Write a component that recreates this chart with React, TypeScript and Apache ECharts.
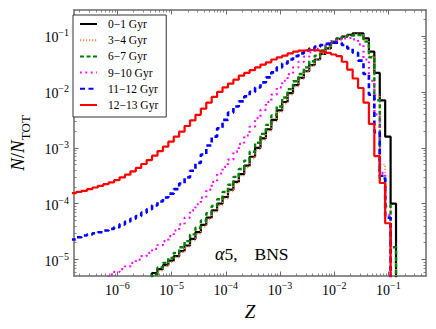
import React, { useEffect, useRef } from "react";
import * as echarts from "echarts";

// Histogram bins: 60 bins of 0.1 dex in log10(Z); left edges from -6.86 up to -0.96, last right edge -0.86
const binEdgesLogZ: number[] = Array.from({ length: 61 }, (_, i) => +(-6.86 + 0.1 * i).toFixed(2));

// log10(N/N_TOT) per bin (null = empty / below plot)
const logN_0_1Gyr: (number | null)[] = [
  null, null, null, null, null, null, null, null, null, null,
  null, null, null, null, null, -5.24, -5.17, -5.10, -5.02, -4.94,
  -4.85, -4.75, -4.63, -4.51, -4.38, -4.25, -4.12, -4.00, -3.88, -3.75,
  -3.61, -3.47, -3.32, -3.16, -3.00, -2.83, -2.67, -2.50, -2.33, -2.18,
  -2.02, -1.88, -1.75, -1.63, -1.52, -1.42, -1.32, -1.22, -1.12, -1.05,
  -1.01, -0.98, -0.95, -0.95, -1.04, -1.28, -1.66, -2.15, -2.80, -4.00,
];
const logN_3_4Gyr: (number | null)[] = [
  null, null, null, null, null, null, null, null, null, null,
  null, null, null, null, null, null, -5.20, -5.12, -5.05, -4.96,
  -4.87, -4.77, -4.66, -4.54, -4.41, -4.28, -4.15, -4.03, -3.91, -3.78,
  -3.64, -3.50, -3.35, -3.19, -3.03, -2.86, -2.70, -2.53, -2.36, -2.21,
  -2.05, -1.90, -1.77, -1.64, -1.53, -1.42, -1.32, -1.22, -1.13, -1.06,
  -1.02, -0.99, -0.97, -0.98, -1.08, -1.36, -2.05, -3.30, -4.05, -5.05,
];
const logN_6_7Gyr: (number | null)[] = [
  null, null, null, null, null, null, null, null, null, null,
  null, null, null, null, null, -5.27, -5.14, -5.06, -4.97, -4.88,
  -4.78, -4.67, -4.55, -4.43, -4.30, -4.17, -4.04, -3.92, -3.79, -3.66,
  -3.52, -3.38, -3.23, -3.07, -2.91, -2.75, -2.59, -2.42, -2.26, -2.10,
  -1.95, -1.81, -1.68, -1.56, -1.45, -1.35, -1.26, -1.17, -1.10, -1.04,
  -1.01, -0.99, -0.98, -0.99, -1.10, -1.38, -2.15, -3.55, -4.03, -4.78,
];
const logN_9_10Gyr: (number | null)[] = [
  null, null, null, null, null, null, null, -5.27, -5.22, -5.17,
  -5.12, -5.06, -5.00, -4.94, -4.88, -4.81, -4.74, -4.67, -4.58, -4.48,
  -4.37, -4.25, -4.12, -4.01, -3.89, -3.75, -3.61, -3.46, -3.34, -3.21,
  -3.07, -2.93, -2.78, -2.62, -2.47, -2.32, -2.18, -2.05, -1.92, -1.80,
  -1.68, -1.56, -1.46, -1.37, -1.29, -1.23, -1.17, -1.13, -1.09, -1.06,
  -1.04, -1.03, -1.06, -1.15, -1.42, -1.80, -2.40, -3.45, -4.20, null,
];
const logN_11_12Gyr: (number | null)[] = [
  -4.64, -4.60, -4.57, -4.55, -4.53, -4.51, -4.48, -4.45, -4.42, -4.37,
  -4.32, -4.27, -4.22, -4.16, -4.10, -4.03, -3.96, -3.89, -3.82, -3.74,
  -3.64, -3.53, -3.41, -3.27, -3.12, -2.96, -2.80, -2.65, -2.50, -2.37,
  -2.26, -2.17, -2.08, -2.00, -1.92, -1.83, -1.74, -1.65, -1.56, -1.49,
  -1.42, -1.36, -1.31, -1.26, -1.22, -1.19, -1.16, -1.14, -1.12, -1.12,
  -1.16, -1.22, -1.30, -1.44, -1.68, -2.05, -2.72, -3.50, -4.25, null,
];
const logN_12_13Gyr: (number | null)[] = [
  -3.81, -3.79, -3.77, -3.74, -3.71, -3.68, -3.65, -3.62, -3.58, -3.53,
  -3.48, -3.42, -3.36, -3.29, -3.22, -3.14, -3.06, -2.98, -2.89, -2.80,
  -2.71, -2.61, -2.51, -2.41, -2.30, -2.19, -2.09, -2.00, -1.92, -1.85,
  -1.78, -1.71, -1.66, -1.61, -1.56, -1.51, -1.47, -1.42, -1.38, -1.35,
  -1.31, -1.28, -1.26, -1.25, -1.25, -1.26, -1.28, -1.30, -1.33, -1.36,
  -1.46, -1.60, -1.76, -1.93, -2.19, -2.57, -3.15, -3.63, -4.35, null,
];

const seriesNames = ["0\u22121 Gyr", "3\u22124 Gyr", "6\u22127 Gyr", "9\u221210 Gyr", "11\u221212 Gyr", "12\u221213 Gyr"];
const seriesValues = [logN_0_1Gyr, logN_3_4Gyr, logN_6_7Gyr, logN_9_10Gyr, logN_11_12Gyr, logN_12_13Gyr];
const seriesColors = ["#000000", "#ff8a50", "#008000", "#ff00ff", "#0000ff", "#ff0000"];
const seriesWidths = [2.2, 1.6, 2.4, 2.2, 2.6, 2.2];
const seriesDash: (string | number[])[] = ["solid", [1.2, 1.8], [4, 2.5], [1.8, 3.6], [5, 3.5], "solid"];

// Axis ranges (log10 space) and tick decades
const xRange = [-6.8, -0.307];
const yRange = [-5.294, -0.534];
const xMajor = [-6, -5, -4, -3, -2, -1];
const yMajor = [-5, -4, -3, -2, -1];

const FLOOR = -9;
const FONT = "Liberation Serif";
const FRAME = "#6a6a6a";

function minorTicks(lo: number, hi: number): number[] {
  const out: number[] = [];
  for (let n = Math.floor(lo) - 1; n <= Math.ceil(hi); n++) {
    for (let k = 2; k <= 9; k++) {
      const v = n + Math.log10(k);
      if (v > lo && v < hi) out.push(v);
    }
  }
  return out;
}

function stepPoints(vals: (number | null)[]): number[][] {
  const pts: number[][] = [];
  for (let i = 0; i < vals.length; i++) {
    const v = vals[i];
    pts.push([binEdgesLogZ[i], v == null ? FLOOR : v]);
  }
  pts.push([binEdgesLogZ[vals.length], FLOOR]);
  return pts;
}

const labelRich = {
  b: { fontFamily: FONT, fontSize: 14, color: "#000", lineHeight: 17, verticalAlign: "bottom" },
  s: { fontFamily: FONT, fontSize: 10, color: "#000", verticalAlign: "top" },
};
const fmt = (v: number) => `{b|10}{s|\u2212${Math.round(Math.abs(v))}}`;

function axisPair(kind: "x" | "y", pos: string, range: number[], major: number[], withLabels: boolean, extra: any = {}) {
  const common = {
    type: "value",
    position: pos,
    min: range[0],
    max: range[1],
    splitLine: { show: false },
    axisPointer: { show: false },
  };
  const main = {
    ...common,
    axisLine: { show: true, onZero: false, lineStyle: { color: FRAME, width: 1.5 } },
    axisTick: { show: true, inside: true, length: 4.5, customValues: major, lineStyle: { color: FRAME, width: 1 } },
    axisLabel: withLabels
      ? { show: true, customValues: major, formatter: fmt, rich: labelRich, margin: kind === "x" ? 4 : 5 }
      : { show: false },
    ...extra,
  };
  const minor = {
    ...common,
    axisLine: { show: false, onZero: false },
    axisTick: { show: true, inside: true, length: 2.5, customValues: minorTicks(range[0], range[1]), lineStyle: { color: FRAME, width: 0.8 } },
    axisLabel: { show: false },
  };
  return [main, minor];
}

export default function App() {
  const ref = useRef<HTMLDivElement>(null);
  useEffect(() => {
    if (!ref.current) return;
    const chart = echarts.init(ref.current, null, { renderer: "svg" });
    const xAxes = [
      ...axisPair("x", "bottom", xRange, xMajor, true, {
        name: "{z|Z}",
        nameLocation: "middle",
        nameGap: 17,
        nameTextStyle: { rich: { z: { fontFamily: FONT, fontStyle: "italic", fontSize: 19, color: "#000" } } },
      }),
      ...axisPair("x", "top", xRange, xMajor, false),
    ];
    const yAxes = [
      ...axisPair("y", "left", yRange, yMajor, true, {
        name: "{i|N}{r|/}{i|N}{sub|TOT}",
        nameLocation: "middle",
        nameRotate: 90,
        nameGap: 42,
        nameTextStyle: {
          rich: {
            i: { fontFamily: FONT, fontStyle: "italic", fontSize: 19, color: "#000", lineHeight: 24, verticalAlign: "top" },
            r: { fontFamily: FONT, fontSize: 19, color: "#000", lineHeight: 24, verticalAlign: "top" },
            sub: { fontFamily: FONT, fontSize: 13, color: "#000", verticalAlign: "bottom" },
          },
        },
      }),
      ...axisPair("y", "right", yRange, yMajor, false),
    ];
    chart.setOption({
      animation: false,
      backgroundColor: "#ffffff",
      grid: { left: 67, right: 10, top: 10, bottom: 53, containLabel: false },
      xAxis: xAxes,
      yAxis: yAxes,
      legend: {
        left: 73,
        top: 15,
        orient: "vertical",
        padding: [3, 8, 6, 6],
        itemWidth: 17,
        itemHeight: 12,
        itemGap: 4.2,
        borderColor: "#333",
        borderWidth: 1,
        backgroundColor: "#fff",
        borderRadius: 0,
        itemStyle: { opacity: 0 },
        textStyle: { fontFamily: FONT, fontSize: 11.5, color: "#000", padding: [0, 0, 0, 6] },
        data: seriesNames,
      },
      graphic: [
        {
          type: "text",
          left: 215,
          top: 245,
          style: {
            text: "{a|\u03b1}{n|5,}{g| }{n|BNS}",
            rich: {
              a: { fontFamily: FONT, fontStyle: "italic", fontSize: 18, fill: "#000" },
              n: { fontFamily: FONT, fontSize: 17.5, fill: "#000" },
              g: { fontFamily: FONT, fontSize: 17.5, width: 17 },
            },
          },
        },
      ],
      series: seriesValues.map((vals, k) => ({
        name: seriesNames[k],
        type: "line",
        step: "end",
        xAxisIndex: 0,
        yAxisIndex: 0,
        symbol: "none",
        showSymbol: false,
        clip: true,
        data: stepPoints(vals),
        lineStyle: { color: seriesColors[k], width: seriesWidths[k], type: seriesDash[k] },
        itemStyle: { color: seriesColors[k] },
        emphasis: { disabled: true },
      })),
    });
    return () => chart.dispose();
  }, []);
  return <div ref={ref} style={{ position: "fixed", left: 0, top: 0, width: 436, height: 329 }} />;
}
